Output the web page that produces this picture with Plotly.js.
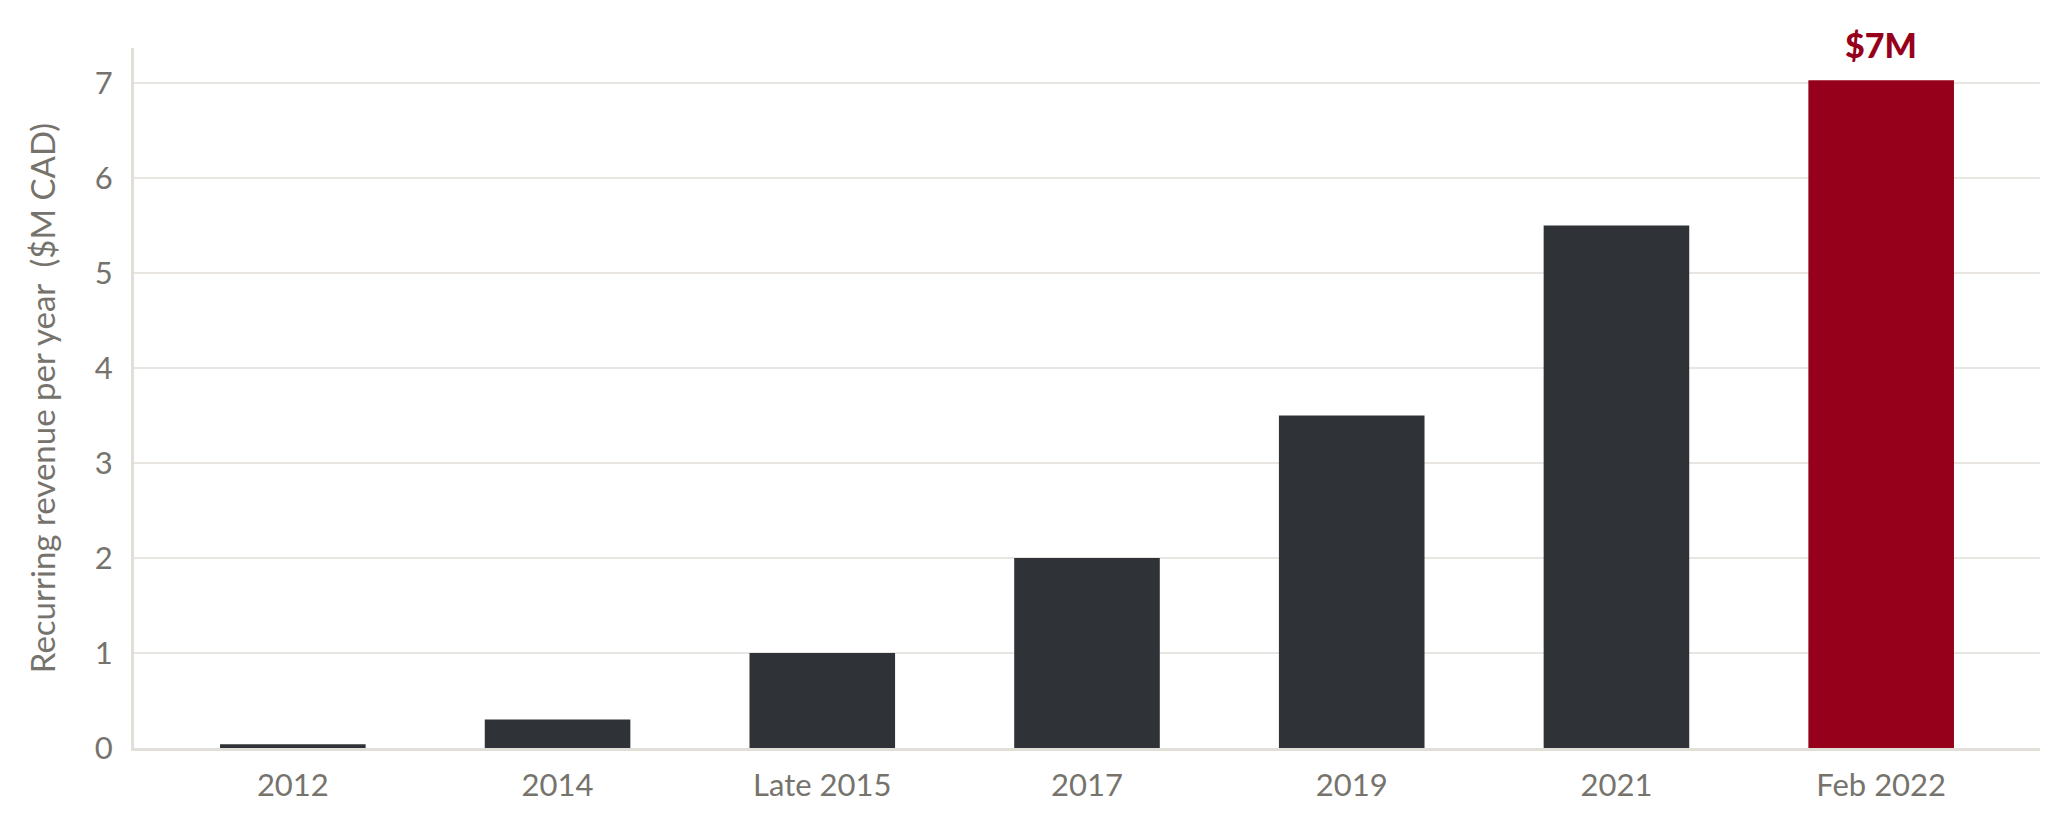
<!DOCTYPE html>
<html>
<head>
<meta charset="utf-8">
<script src="https://cdn.plot.ly/plotly-3.0.1.min.js"></script>
<style>
  html, body { margin: 0; padding: 0; background: #ffffff; }
  #chart { width: 2070px; height: 823px; }
</style>
</head>
<body>
<div id="chart"></div>
<script>
// periods on the x axis
var periods = ['2012', '2014', 'Late 2015', '2017', '2019', '2021', 'Feb 2022'];
// recurring revenue per year, $M CAD
var revenue = [0.04, 0.3, 1.0, 2.0, 3.5, 5.5, 7.03];
// last bar is highlighted
var barColors = ['#2f3337', '#2f3337', '#2f3337', '#2f3337', '#2f3337', '#2f3337', '#96001a'];
// label over the highlighted bar
var calloutIndex = 6;
var calloutText = '$7M';

var grey = '#76736d';

var trace = {
  x: periods,
  y: revenue,
  type: 'bar',
  marker: { color: barColors },
  hoverinfo: 'x+y'
};

var layout = {
  width: 2070,
  height: 823,
  margin: { l: 134, r: 30, t: 48, b: 75 },
  paper_bgcolor: '#ffffff',
  plot_bgcolor: '#ffffff',
  bargap: 0.45,
  showlegend: false,
  font: { family: 'Lato', color: grey, size: 31 },
  xaxis: {
    type: 'category',
    range: [-0.6, 6.6],
    showgrid: false,
    showline: true,
    linecolor: '#e2ded8',
    linewidth: 3,
    ticks: '',
    ticklabelstandoff: 8,
    tickfont: { family: 'Lato', size: 31, color: grey },
    fixedrange: true
  },
  yaxis: {
    range: [0, 7.37],
    tickvals: [0, 1, 2, 3, 4, 5, 6, 7],
    showgrid: true,
    gridcolor: '#e9e6e2',
    gridwidth: 2,
    zeroline: false,
    showline: true,
    linecolor: '#e2ded8',
    linewidth: 3,
    ticks: '',
    ticklabelstandoff: 12,
    tickfont: { family: 'Lato', size: 31, color: grey },
    title: {
      text: 'Recurring revenue per year\u00a0 ($M CAD)',
      font: { family: 'Lato', size: 33, color: grey },
      standoff: 30
    },
    fixedrange: true
  },
  annotations: [{
    x: periods[calloutIndex],
    y: revenue[calloutIndex],
    xref: 'x',
    yref: 'y',
    text: calloutText,
    showarrow: false,
    yanchor: 'bottom',
    yshift: 13,
    font: { family: 'Lato', size: 34, color: '#96001a', weight: 900 }
  }]
};

Plotly.newPlot('chart', [trace], layout, { displayModeBar: false, staticPlot: true });
</script>
</body>
</html>
